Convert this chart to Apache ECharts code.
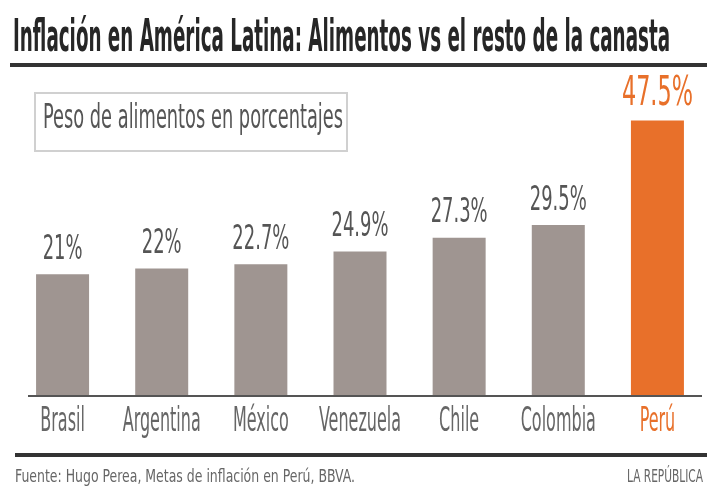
<!DOCTYPE html>
<html>
<head>
<meta charset="utf-8">
<script src="https://cdn.jsdelivr.net/npm/echarts@6/dist/echarts.min.js"></script>
<style>
  html, body { margin: 0; padding: 0; background: #ffffff; }
  #chart { width: 707px; height: 498px; }
</style>
</head>
<body>
<div id="chart"></div>
<script>
// ---- Data ----
const categories = ['Brasil', 'Argentina', 'México', 'Venezuela', 'Chile', 'Colombia', 'Perú'];
const values = [21, 22, 22.7, 24.9, 27.3, 29.5, 47.5];
const highlight = 'Perú';
const titleText = 'Inflación en América Latina: Alimentos vs el resto de la canasta';
const subtitleText = 'Peso de alimentos en porcentajes';
const sourceText = 'Fuente: Hugo Perea, Metas de inflación en Perú, BBVA.';
const creditText = 'LA REPÚBLICA';

// ---- Styling helpers ----
const FAM = "'Liberation Sans Narrow', 'DejaVu Sans Condensed', 'Roboto Condensed', sans-serif";
const GREY_BAR = '#9f9591';
const ORANGE = '#e8702a';
const measureCtx = document.createElement('canvas').getContext('2d');
function fit(text, font, w) {
  measureCtx.font = font;
  return w / measureCtx.measureText(text).width;
}
const fTitle = 'bold 44px ' + FAM;
const fSub = '33px ' + FAM;
const fVal = '34px ' + FAM;
const fValHi = '41px ' + FAM;
const fCat = '34px ' + FAM;
const fSrc = '17px ' + FAM;
const valScale = fit('27.3%', fVal, 57);
const valScaleHi = fit('47.5%', fValHi, 71);
const catScale = fit('Argentina', fCat, 78);

const chart = echarts.init(document.getElementById('chart'), null, { renderer: 'canvas' });
const hiIndex = categories.indexOf(highlight);

chart.setOption({
  animation: false,
  backgroundColor: '#ffffff',
  grid: { left: 13, width: 700, top: 106, height: 290, containLabel: false },
  xAxis: {
    type: 'category',
    data: categories,
    axisLine: { show: false },
    axisTick: { show: false },
    axisLabel: { show: false },
    splitLine: { show: false }
  },
  yAxis: {
    type: 'value',
    min: 0,
    max: 50,
    show: false,
    splitLine: { show: false }
  },
  graphic: [
    { type: 'text', x: 13, y: 40, scaleX: fit(titleText, fTitle, 657),
      style: { text: titleText, font: fTitle, fill: '#262626', align: 'left', verticalAlign: 'middle' } },
    { type: 'rect', shape: { x: 10, y: 63, width: 697, height: 4 }, style: { fill: '#333333' } },
    { type: 'rect', shape: { x: 35, y: 93, width: 312, height: 58 }, style: { fill: '#ffffff', stroke: '#d0d0d0', lineWidth: 2 } },
    { type: 'text', x: 43, y: 119, scaleX: fit(subtitleText, fSub, 300),
      style: { text: subtitleText, font: fSub, fill: '#555555', align: 'left', verticalAlign: 'middle' } },
    { type: 'rect', shape: { x: 28, y: 395, width: 674, height: 2 }, style: { fill: '#555555' }, z: 10 },
    { type: 'rect', shape: { x: 15, y: 453, width: 692, height: 4 }, style: { fill: '#333333' } },
    { type: 'text', x: 15, y: 478, scaleX: fit(sourceText, fSrc, 340),
      style: { text: sourceText, font: fSrc, fill: '#666666', align: 'left', verticalAlign: 'middle' } },
    { type: 'text', x: 627, y: 478, scaleX: fit(creditText, fSrc, 76),
      style: { text: creditText, font: fSrc, fill: '#666666', align: 'left', verticalAlign: 'middle' } }
  ],
  series: [
    {
      type: 'bar',
      data: values,
      barWidth: 53,
      silent: true,
      itemStyle: { color: (p) => p.dataIndex === hiIndex ? ORANGE : GREY_BAR }
    },
    {
      type: 'custom',
      silent: true,
      z: 5,
      data: values.map((v, i) => [i, v]),
      renderItem: (params, api) => {
        const i = api.value(0);
        const v = api.value(1);
        const top = api.coord([i, v]);
        const base = api.coord([i, 0]);
        const hi = i === hiIndex;
        return {
          type: 'group',
          children: [
            { type: 'text', x: top[0], y: top[1] - (hi ? 26 : 24), scaleX: hi ? valScaleHi : valScale,
              style: { text: v + '%', font: hi ? fValHi : fVal, fill: hi ? ORANGE : '#555555', align: 'center', verticalAlign: 'middle' } },
            { type: 'text', x: base[0], y: base[1] + 26, scaleX: catScale,
              style: { text: categories[i], font: fCat, fill: hi ? ORANGE : '#666666', align: 'center', verticalAlign: 'middle' } }
          ]
        };
      }
    }
  ]
});
</script>
</body>
</html>
